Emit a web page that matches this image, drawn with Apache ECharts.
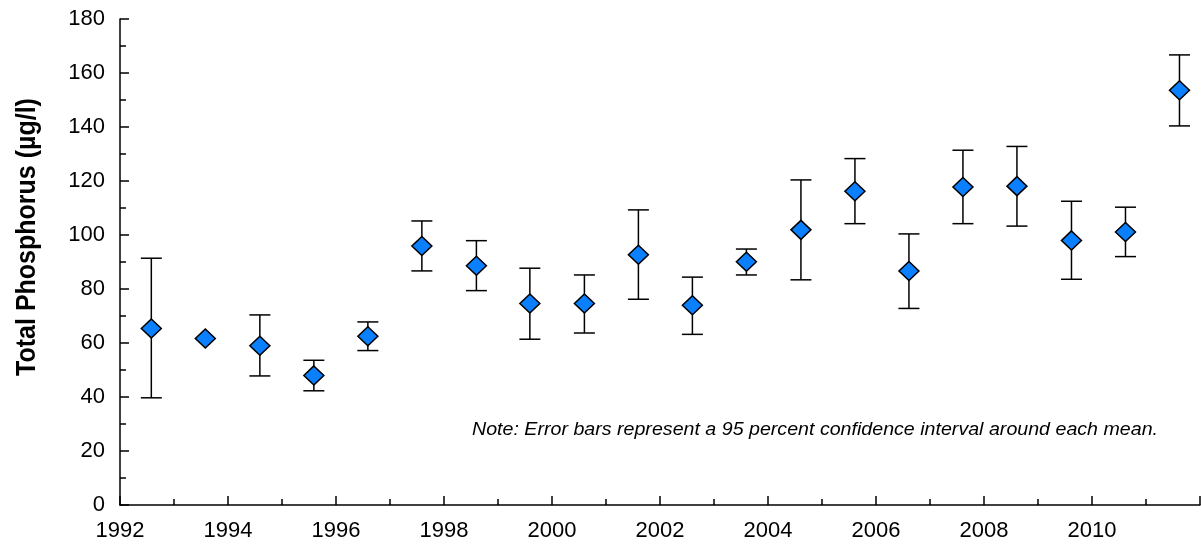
<!DOCTYPE html>
<html>
<head>
<meta charset="utf-8">
<script src="https://cdn.jsdelivr.net/npm/echarts@6/dist/echarts.min.js"></script>
<style>
  html, body { margin: 0; padding: 0; background: #fff; }
  #chart { width: 1201px; height: 548px; }
</style>
</head>
<body>
<div id="chart"></div>
<script>
// Sampling time of each annual mean (decimal year)
const sampleTimes = [1992.58, 1993.58, 1994.59, 1995.59, 1996.59, 1997.59, 1998.6, 1999.59, 2000.6, 2001.6,
                     2002.6, 2003.6, 2004.61, 2005.61, 2006.61, 2007.61, 2008.61, 2009.62, 2010.62, 2011.62];
// Mean total phosphorus (µg/l)
const meanTP = [65.4, 61.7, 59.0, 48.0, 62.5, 95.9, 88.6, 74.6, 74.6, 92.7,
                74.0, 90.1, 101.9, 116.2, 86.7, 117.8, 118.1, 98.0, 101.1, 153.6];
// 95 % confidence interval bounds
const lowerCI = [39.7, null, 47.8, 42.3, 57.2, 86.7, 79.4, 61.4, 63.7, 76.2,
                 63.2, 85.2, 83.4, 104.2, 72.8, 104.2, 103.3, 83.6, 92.0, 140.4];
const upperCI = [91.4, null, 70.4, 53.6, 67.8, 105.2, 97.9, 87.7, 85.2, 109.3,
                 84.4, 94.8, 120.4, 128.3, 100.4, 131.4, 132.8, 112.5, 110.3, 166.7];
const yearTicks = { min: 1992, max: 2012, step: 2 };
const tpTicks = { min: 0, max: 180, step: 20 };

const chart = echarts.init(document.getElementById('chart'), null, { renderer: 'canvas' });

const meanPoints = sampleTimes.map((t, i) => [t, meanTP[i]]);
const ciData = sampleTimes.map((t, i) => [t, lowerCI[i], upperCI[i]]);

const axisFont = { fontFamily: 'Liberation Sans, Arial, sans-serif', fontSize: 22, color: '#000' };

chart.setOption({
  animation: false,
  grid: { left: 120, right: 1, top: 19, bottom: 43, containLabel: false },
  xAxis: {
    type: 'value',
    min: yearTicks.min, max: yearTicks.max, interval: yearTicks.step,
    axisLine: { lineStyle: { color: '#000', width: 1.5 } },
    axisTick: { inside: true, length: 9, lineStyle: { color: '#000', width: 1.5 } },
    minorTick: { show: true, splitNumber: 2, length: 6, lineStyle: { color: '#000', width: 1.5 } },
    splitLine: { show: false },
    axisLabel: { showMaxLabel: false, margin: 15, ...axisFont, formatter: v => String(v) }
  },
  yAxis: {
    type: 'value',
    min: tpTicks.min, max: tpTicks.max, interval: tpTicks.step,
    axisLine: { show: true, lineStyle: { color: '#000', width: 1.5 } },
    axisTick: { show: true, inside: true, length: 9, lineStyle: { color: '#000', width: 1.5 } },
    minorTick: { show: true, splitNumber: 2, length: 6, lineStyle: { color: '#000', width: 1.5 } },
    splitLine: { show: false },
    axisLabel: { margin: 15, ...axisFont }
  },
  graphic: [
    {
      type: 'text',
      x: 27, y: 237,
      rotation: Math.PI / 2,
      scaleY: 1.12,
      style: {
        text: 'Total Phosphorus (µg/l)',
        font: 'bold 25px "Liberation Sans", Arial, sans-serif',
        fill: '#000',
        align: 'center',
        verticalAlign: 'middle'
      }
    },
    {
      type: 'text',
      x: 472, y: 430,
      scaleX: 1.09,
      style: {
        text: 'Note: Error bars represent a 95 percent confidence interval around each mean.',
        font: 'italic 18px "Liberation Sans", Arial, sans-serif',
        fill: '#000',
        align: 'left',
        verticalAlign: 'middle'
      }
    }
  ],
  series: [
    {
      type: 'custom',
      name: '95% CI',
      data: ciData,
      z: 2,
      renderItem: function (params, api) {
        const lo = api.value(1), hi = api.value(2);
        if (lo == null || hi == null || isNaN(lo) || isNaN(hi)) return null;
        const x = api.value(0);
        const pLo = api.coord([x, lo]);
        const pHi = api.coord([x, hi]);
        const w = 10.5;
        const style = { stroke: '#000', lineWidth: 1.5 };
        return {
          type: 'group',
          children: [
            { type: 'line', shape: { x1: pLo[0], y1: pLo[1], x2: pHi[0], y2: pHi[1] }, style },
            { type: 'line', shape: { x1: pHi[0] - w, y1: pHi[1], x2: pHi[0] + w, y2: pHi[1] }, style },
            { type: 'line', shape: { x1: pLo[0] - w, y1: pLo[1], x2: pLo[0] + w, y2: pLo[1] }, style }
          ]
        };
      }
    },
    {
      type: 'scatter',
      name: 'Mean',
      data: meanPoints,
      z: 3,
      symbol: 'diamond',
      symbolSize: [20, 19],
      itemStyle: { color: '#0a80ff', borderColor: '#000', borderWidth: 1.5, opacity: 1 }
    }
  ]
});
</script>
</body>
</html>
